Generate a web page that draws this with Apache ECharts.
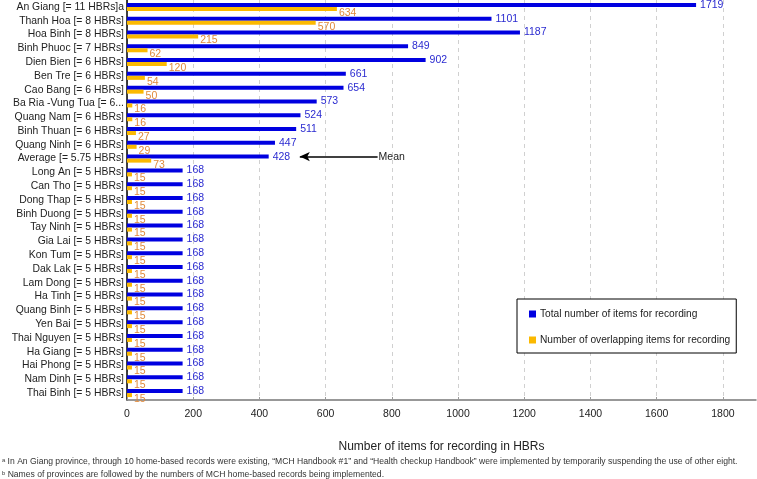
<!DOCTYPE html>
<html>
<head>
<meta charset="utf-8">
<script src="https://cdn.jsdelivr.net/npm/echarts@6/dist/echarts.min.js"></script>
<style>
  html, body { margin: 0; padding: 0; background: #fff; }
  #chart { width: 757px; height: 479px; }
</style>
</head>
<body>
<div id="chart"></div>
<script>
'use strict';

// provinces, top to bottom
const categories = [
  'An Giang [= 11 HBRs]a', 'Thanh Hoa [= 8 HBRs]', 'Hoa Binh [= 8 HBRs]',
  'Binh Phuoc [= 7 HBRs]', 'Dien Bien [= 6 HBRs]', 'Ben Tre [= 6 HBRs]',
  'Cao Bang [= 6 HBRs]', 'Ba Ria -Vung Tua [= 6...', 'Quang Nam [= 6 HBRs]',
  'Binh Thuan [= 6 HBRs]', 'Quang Ninh [= 6 HBRs]', 'Average [= 5.75 HBRs]',
  'Long An [= 5 HBRs]', 'Can Tho [= 5 HBRs]', 'Dong Thap [= 5 HBRs]',
  'Binh Duong [= 5 HBRs]', 'Tay Ninh [= 5 HBRs]', 'Gia Lai [= 5 HBRs]',
  'Kon Tum [= 5 HBRs]', 'Dak Lak [= 5 HBRs]', 'Lam Dong [= 5 HBRs]',
  'Ha Tinh [= 5 HBRs]', 'Quang Binh [= 5 HBRs]', 'Yen Bai [= 5 HBRs]',
  'Thai Nguyen [= 5 HBRs]', 'Ha Giang [= 5 HBRs]', 'Hai Phong [= 5 HBRs]',
  'Nam Dinh [= 5 HBRs]', 'Thai Binh [= 5 HBRs]'
];

const totalItems = [
  1719, 1101, 1187, 849, 902, 661, 654, 573, 524, 511, 447, 428,
  168, 168, 168, 168, 168, 168, 168, 168, 168, 168, 168, 168, 168, 168, 168, 168, 168
];

const overlapItems = [
  634, 570, 215, 62, 120, 54, 50, 16, 16, 27, 29, 73,
  15, 15, 15, 15, 15, 15, 15, 15, 15, 15, 15, 15, 15, 15, 15, 15, 15
];

const seriesNames = [
  'Total number of items for recording',
  'Number of overlapping items for recording'
];

const footnotes = [
  'ᵃ In An Giang province, through 10 home-based records were existing, \u201cMCH Handbook #1\u201d and \u201cHealth checkup Handbook\u201d were implemented by temporarily suspending the use of other eight.',
  'ᵇ Names of provinces are followed by the numbers of MCH home-based records being implemented.'
];

const FONT = '"Liberation Sans", Arial, Helvetica, sans-serif';
const BLUE = '#0000e0';
const YELLOW = '#fbb900';

const chart = echarts.init(document.getElementById('chart'));

chart.setOption({
  animation: false,
  textStyle: { fontFamily: FONT },
  grid: { left: 127, right: 1, top: 0, bottom: 79 },
  legend: {
    orient: 'vertical',
    left: 517,
    top: 299,
    padding: [10, 6, 8, 12],
    borderColor: '#000',
    borderWidth: 1,
    backgroundColor: '#fff',
    itemWidth: 7,
    itemHeight: 7,
    itemGap: 16,
    icon: 'rect',
    data: seriesNames,
    textStyle: { fontSize: 10.2, color: '#222', fontFamily: FONT, padding: [0, 0, 0, -1] }
  },
  xAxis: {
    type: 'value',
    min: 0,
    max: 1900,
    interval: 200,
    name: 'Number of items for recording in HBRs',
    nameLocation: 'middle',
    nameGap: 41,
    nameTextStyle: { fontSize: 12, color: '#222', fontFamily: FONT },
    axisLine: { show: true, lineStyle: { color: '#777', width: 1.5 } },
    axisTick: { show: true, inside: true, length: 3, lineStyle: { color: '#999' } },
    axisLabel: {
      fontSize: 10.5, color: '#222', margin: 9, showMaxLabel: false, fontFamily: FONT,
      formatter: function (v) { return String(v); }
    },
    splitLine: { show: true, showMaxLine: false, lineStyle: { color: '#d0d0d0', type: [4, 4], width: 1 } }
  },
  yAxis: {
    type: 'category',
    inverse: true,
    data: categories,
    axisLine: { show: true, lineStyle: { color: '#000', width: 1.5 } },
    axisTick: { show: false },
    axisLabel: { interval: 0, fontSize: 10.4, color: '#222', margin: 3, fontFamily: FONT }
  },
  series: [
    {
      name: seriesNames[0],
      type: 'bar',
      data: totalItems,
      barWidth: 4,
      barGap: '0%',
      itemStyle: { color: BLUE },
      label: {
        show: true,
        position: 'right',
        distance: 4,
        fontSize: 10.5,
        color: '#2a2ad0',
        fontFamily: FONT
      },
      markLine: {
        silent: true,
        symbol: ['none', 'arrow'],
        symbolSize: [7, 10],
        lineStyle: { color: '#000', width: 1.5, type: 'solid' },
        label: {
          show: true,
          position: 'start',
          formatter: 'Mean',
          fontSize: 10.5,
          color: '#222',
          distance: 1,
          fontFamily: FONT
        },
        data: [[
          { coord: [757, categories[11]] },
          { coord: [522, categories[11]] }
        ]]
      }
    },
    {
      name: seriesNames[1],
      type: 'bar',
      data: overlapItems,
      barWidth: 4,
      barGap: '0%',
      itemStyle: { color: YELLOW },
      label: {
        show: true,
        position: 'right',
        distance: 2,
        offset: [0, 4],
        fontSize: 10.5,
        color: '#e08a3c',
        fontFamily: FONT
      }
    }
  ],
  graphic: footnotes.map(function (t, i) {
    return {
      type: 'text',
      left: 2,
      top: 457 + i * 13,
      style: { text: t, fontSize: 8.6, fill: '#333', fontFamily: FONT }
    };
  })
});
</script>
</body>
</html>
